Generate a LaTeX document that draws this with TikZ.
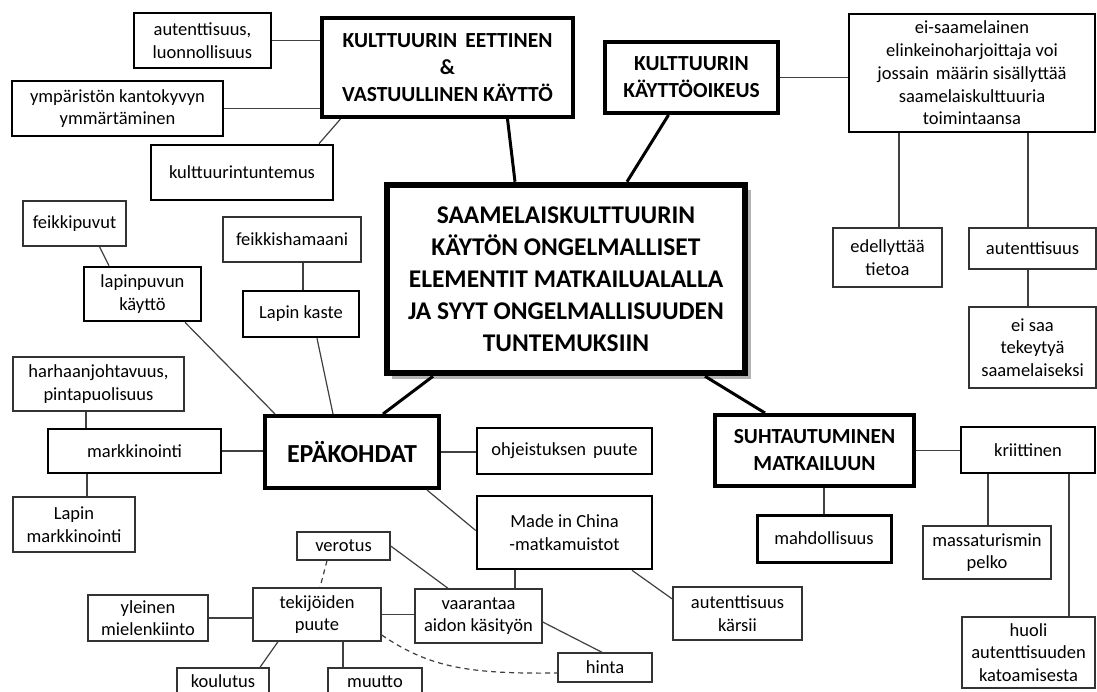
\documentclass[tikz,border=0pt]{standalone}
\usepackage{fontspec}
\setmainfont{Carlito}
\begin{document}
\begin{tikzpicture}[x=1pt,y=-1pt,
 box/.style={draw=black!80, fill=white, inner sep=0pt, align=center, font=\fontsize{18.5}{22.7}\selectfont, line width=1.4pt},
 bmed/.style={box, line width=2.6pt, draw=black},
 bthick/.style={box, line width=4pt, draw=black, font=\bfseries\fontsize{21.5}{27}\selectfont},
 conn/.style={line width=1.2pt, draw=black!75},
 tconn/.style={line width=3pt, draw=black},
 dconn/.style={conn, dash pattern=on 5pt off 4pt}]
\useasboundingbox (0,0) rectangle (1097,692);
\clip (0,0) rectangle (1097,692);
\fill[white] (0,0) rectangle (1097,692);

% top left cluster
\node[bmed, minimum width=137pt, minimum height=55pt] (aut1) at (202.5,40.5) {autenttisuus,\\luonnollisuus};
\node[bmed, minimum width=211pt, minimum height=55pt] (ymp) at (117.5,108.5) {ympäristön kantokyvyn\\ymmärtäminen};
\node[bmed, minimum width=182pt, minimum height=55pt] (ktunt) at (242,172.5) {kulttuurintuntemus};
\node[bthick, minimum width=251pt, minimum height=99pt] (KE) at (447.5,67.5) {KULTTUURIN\hspace{0.15em} EETTINEN\\\&\\VASTUULLINEN KÄYTTÖ};

% top right cluster
\node[bthick, minimum width=173pt, minimum height=71pt] (KO) at (691.5,77.5) {KULTTUURIN\\KÄYTTÖOIKEUS};
\node[bmed, minimum width=246pt, minimum height=118pt] (eisaam) at (972,73) {ei-saamelainen\\elinkeinoharjoittaja voi\\jossain\hspace{0.15em} määrin sisällyttää\\saamelaiskulttuuria\\toimintaansa};
\node[box, minimum width=109pt, minimum height=59pt] (edell) at (887.5,257.5) {edellyttää\\tietoa};
\node[box, minimum width=127pt, minimum height=41pt] (autr) at (1032.5,248.5) {autenttisuus};
\node[box, minimum width=127pt, minimum height=81pt] (eisaa) at (1032.5,347.5) {ei saa\\tekeytyä\\saamelaiseksi};

% center
\fill[black!30] (392,190) rectangle (751,379);
\node[box, line width=6.5pt, draw=black, minimum width=358pt, minimum height=188pt, font=\bfseries\fontsize{25.5}{32}\selectfont] (center) at (566,279) {SAAMELAISKULTTUURIN\\KÄYTÖN ONGELMALLISET\\ELEMENTIT MATKAILUALALLA\\JA SYYT ONGELMALLISUUDEN\\TUNTEMUKSIIN};

% left middle
\node[box, minimum width=103pt, minimum height=45pt] (feikkip) at (74.5,223.5) {feikkipuvut};
\node[bmed, minimum width=117pt, minimum height=54pt] (lapinp) at (142.5,294) {lapinpuvun\\käyttö};
\node[box, minimum width=138pt, minimum height=45pt] (feikkish) at (292,239.5) {feikkishamaani};
\node[bmed, minimum width=116pt, minimum height=46pt] (lkaste) at (301,314) {Lapin kaste};
\node[box, minimum width=171pt, minimum height=54pt] (harh) at (98.5,384) {harhaanjohtavuus,\\pintapuolisuus};
\node[bmed, minimum width=173pt, minimum height=44pt] (markk) at (134.5,451) {markkinointi};
\node[box, minimum width=122pt, minimum height=55pt] (lmarkk) at (74,524.5) {Lapin\\markkinointi};
\node[bthick, minimum width=174pt, minimum height=72pt, font=\bfseries\fontsize{26}{30}\selectfont] (epak) at (352,452) {EPÄKOHDAT};
\node[bmed, minimum width=175pt, minimum height=46pt] (ohje) at (564.5,451) {ohjeistuksen\hspace{0.15em} puute};
\node[bmed, minimum width=175pt, minimum height=73pt] (mic) at (564.5,532.5) {Made in China\\-matkamuistot};

% right middle
\node[bthick, minimum width=199pt, minimum height=71pt] (suht) at (814.5,450.5) {SUHTAUTUMINEN\\MATKAILUUN};
\node[bmed, minimum width=134pt, minimum height=46pt] (kriit) at (1028,450) {kriittinen};
\node[bmed, line width=3pt, minimum width=134pt, minimum height=47pt] (mahd) at (824,538.5) {mahdollisuus};
\node[box, minimum width=128pt, minimum height=53pt] (massa) at (987,552.5) {massaturismin\\pelko};
\node[box, minimum width=129pt, minimum height=53pt] (autk) at (737.5,613.5) {autenttisuus\\kärsii};
\node[box, minimum width=133pt, minimum height=71pt] (huoli) at (1028.5,652.5) {huoli\\autenttisuuden\\katoamisesta};

% bottom cluster
\node[box, minimum width=93pt, minimum height=28pt] (verotus) at (343.5,546) {verotus};
\node[box, minimum width=128pt, minimum height=53pt] (tekij) at (317,614.5) {tekijöiden\\puute};
\node[box, minimum width=120pt, minimum height=46pt] (yleinen) at (148,618) {yleinen\\mielenkiinto};
\node[box, minimum width=92pt, minimum height=27pt] (koul) at (223,681.5) {koulutus};
\node[box, minimum width=94pt, minimum height=27pt] (muutto) at (375,681.5) {muutto};
\node[box, minimum width=127pt, minimum height=54pt] (vaar) at (478.5,616) {vaarantaa\\aidon käsityön};
\node[box, minimum width=94pt, minimum height=29pt] (hinta) at (605,667.5) {hinta};

% helper coordinates
\coordinate (pe) at ([xshift=11.5pt]edell.north);
\coordinate (pa) at ([xshift=-4.5pt]autr.north);
\coordinate (pm) at ([xshift=-48.5pt]markk.north);
\coordinate (pl) at ([xshift=13pt]lmarkk.north);

% connectors
\draw[conn] (aut1.east) -- (aut1.east -| KE.west);
\draw[conn] (ymp.east) -- (ymp.east -| KE.west);
\draw[conn] ([xshift=77pt]ktunt.north) -- ([xshift=-107pt]KE.south);
\draw[tconn] ([xshift=60pt]KE.south) -- ([xshift=-51pt]center.north);
\draw[tconn] ([xshift=-23pt]KO.south) -- ([xshift=61pt]center.north);
\draw[conn] (KO.east) -- (KO.east -| eisaam.west);
\draw[conn] (pe) -- (pe |- eisaam.south);
\draw[conn] (pa) -- (pa |- eisaam.south);
\draw[conn] (pa |- autr.south) -- (pa |- eisaa.north);
\draw[conn] ([xshift=25pt]feikkip.south) -- ([xshift=-33.5pt]lapinp.north);
\draw[conn] ([xshift=11pt]feikkish.south) -- ([xshift=2pt]lkaste.north);
\draw[conn] ([xshift=42.5pt]lapinp.south) -- ([xshift=-77pt]epak.north);
\draw[conn] ([xshift=16pt]lkaste.south) -- ([xshift=-19pt]epak.north);
\draw[tconn] ([xshift=-133pt]center.south) -- ([xshift=31pt]epak.north);
\draw[tconn] ([xshift=139pt]center.south) -- ([xshift=-49.5pt]suht.north);
\draw[conn] (pm |- harh.south) -- (pm);
\draw[conn] (markk.east) -- (markk.east -| epak.west);
\draw[conn] (pl |- markk.south) -- (pl);
\draw[conn] (epak.east) -- (epak.east -| ohje.west);
\draw[conn] ([xshift=75pt]epak.south) -- ([yshift=2pt]mic.west);
\draw[conn] (verotus.east) -- ([xshift=-30.5pt]vaar.north);
\draw[dconn] ([xshift=-16.5pt]verotus.south) -- ([xshift=3pt]tekij.north);
\draw[conn] (tekij.east) -- (tekij.east -| vaar.west);
\draw[conn] (yleinen.east) -- (yleinen.east -| tekij.west);
\draw[conn] ([xshift=-39pt]tekij.south) -- ([xshift=37pt]koul.north);
\draw[conn] ([xshift=26pt]tekij.south) -- ([xshift=-32pt]muutto.north);
\draw[dconn] ([yshift=-20.5pt]tekij.east) .. controls (430,668) and (470,674) .. ([yshift=-5.5pt]hinta.west);
\draw[conn] ([xshift=-49.5pt]mic.south) -- ([xshift=36.5pt]vaar.north);
\draw[conn] ([yshift=-6pt]vaar.east) -- ([xshift=-3pt]hinta.north);
\draw[conn] ([xshift=67.5pt]mic.south) -- ([yshift=14.5pt]autk.west);
\draw[conn] (suht.east) -- (suht.east -| kriit.west);
\draw[conn] ([xshift=9.5pt]suht.south) -- (mahd.north);
\draw[conn] ([xshift=-40pt]kriit.south) -- ([xshift=1pt]massa.north);
\draw[conn] ([xshift=41pt]kriit.south) -- ([xshift=40.5pt]huoli.north);
\end{tikzpicture}
\end{document}
